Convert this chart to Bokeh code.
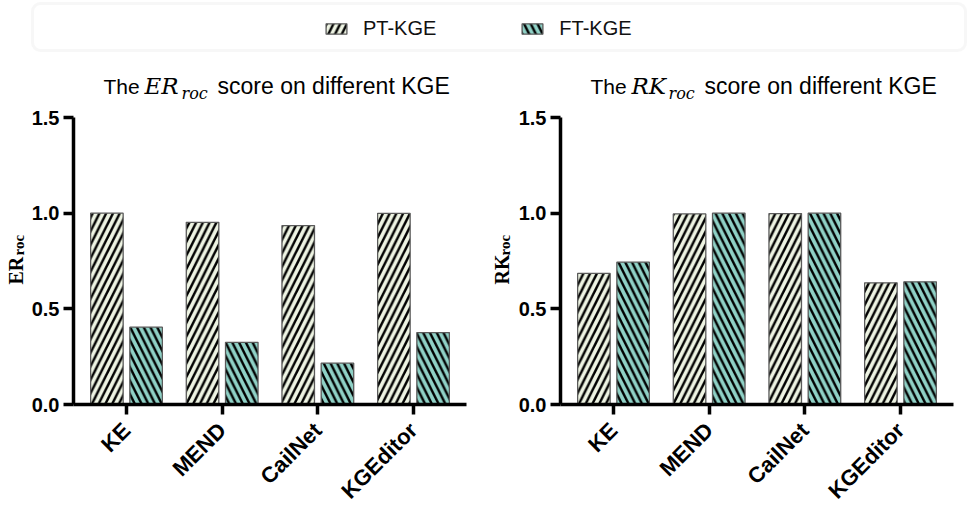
import math
from bokeh.plotting import figure
from bokeh.models import (ColumnDataSource, Range1d, FixedTicker, PrintfTickFormatter,
                          Label, Legend, LegendItem, BoxAnnotation)
from bokeh.layouts import column, row
from bokeh.transform import dodge
from bokeh.embed import file_html
from bokeh.resources import INLINE

# ---------------- data ----------------
categories = ["KE", "MEND", "CailNet", "KGEditor"]
series_names = ["PT-KGE", "FT-KGE"]
er_pt = [1.000, 0.952, 0.935, 0.999]
er_ft = [0.404, 0.325, 0.216, 0.376]
rk_pt = [0.685, 0.996, 0.998, 0.636]
rk_ft = [0.744, 1.000, 1.000, 0.641]
y_ticks = [0.0, 0.5, 1.0, 1.5]

# ---------------- style ----------------
PT_FILL = "#eef4e3"
FT_FILL = "#8fd1c6"
SANS = "Liberation Sans"
SERIF = "DejaVu Serif"
YSERIF = "Liberation Serif"
BAR_W = 0.34
OFF = 0.205
FRAME_W, FRAME_H = 393, 287
ROW_H = 404
TOP_B = 13

bar_style = dict(line_color="#5a5a5a", line_width=1.3, hatch_color="black",
                 hatch_weight=2.4, hatch_scale=13.5)


def strip(width, height):
    f = figure(output_backend="svg", toolbar_location=None, width=width, height=height,
               x_range=Range1d(0, 1), y_range=Range1d(0, 1),
               x_axis_type=None, y_axis_type=None,
               min_border=0, min_border_left=0, min_border_right=0,
               min_border_top=0, min_border_bottom=0)
    f.outline_line_color = None
    f.grid.visible = False
    return f


def make_chart(pt, ft, min_left, min_right):
    src = ColumnDataSource(dict(idx=list(range(len(categories))), pt=pt, ft=ft))
    p = figure(output_backend="svg", toolbar_location=None,
               frame_width=FRAME_W, frame_height=FRAME_H,
               x_range=Range1d(-0.554, len(categories) - 1 + 0.554),
               y_range=Range1d(0, 1.5),
               min_border_left=min_left, min_border_right=min_right,
               min_border_top=TOP_B, min_border_bottom=ROW_H - TOP_B - FRAME_H)
    p.vbar(x=dodge("idx", -OFF, range=p.x_range), top="pt", bottom=0, width=BAR_W,
           source=src, fill_color=PT_FILL, hatch_pattern="/", **bar_style)
    p.vbar(x=dodge("idx", OFF, range=p.x_range), top="ft", bottom=0, width=BAR_W,
           source=src, fill_color=FT_FILL, hatch_pattern="\\", **bar_style)

    p.outline_line_color = None
    p.grid.visible = False
    for ax in (p.xaxis[0], p.yaxis[0]):
        ax.axis_line_width = 3.5
        ax.axis_line_color = "black"
        ax.major_tick_line_width = 3.5
        ax.major_tick_line_color = "black"
        ax.major_tick_out = 10
        ax.major_tick_in = 0
        ax.minor_tick_line_color = None
        ax.major_label_text_font = SANS
        ax.major_label_text_font_style = "bold"
        ax.major_label_text_color = "black"
    p.yaxis.ticker = FixedTicker(ticks=y_ticks)
    p.yaxis.formatter = PrintfTickFormatter(format="%.1f")
    p.yaxis.major_label_text_font_size = "20px"
    p.yaxis.major_label_standoff = 4
    p.xaxis.ticker = FixedTicker(ticks=list(range(len(categories))))
    p.xaxis.major_label_overrides = {i: c for i, c in enumerate(categories)}
    p.xaxis.major_label_orientation = math.pi / 4
    p.xaxis.major_label_text_font_size = "22px"
    p.xaxis.major_label_standoff = 12
    return p


def ylabel_strip(width, sym, base_x):
    # the strip's frame is aligned with the neighbouring chart frame
    f = strip(width, ROW_H)
    kw = dict(x_units="screen", y_units="screen", angle=math.pi / 2, text_color="black",
              text_baseline="alphabetic", text_align="left", text_font=YSERIF,
              text_font_style="bold")
    f.add_layout(Label(x=base_x, y=113, text=sym, text_font_size="20px", **kw))
    f.add_layout(Label(x=base_x + 3, y=142, text="roc", text_font_size="15px", **kw))
    return f


# ---------------- legend strip ----------------
lg = strip(969, 56)
proxy = ColumnDataSource(dict(idx=list(range(len(categories))), pt=er_pt, ft=er_ft))
lg.x_range = Range1d(20, 21)
lg.y_range = Range1d(20, 21)
r_pt = lg.vbar(x="idx", top="pt", width=0.1, source=proxy, fill_color=PT_FILL,
               hatch_pattern="/", visible=False, **bar_style)
r_ft = lg.vbar(x="idx", top="ft", width=0.1, source=proxy, fill_color=FT_FILL,
               hatch_pattern="\\", visible=False, **bar_style)
lg.add_layout(BoxAnnotation(left=32, right=965, bottom=6, top=53,
                            left_units="screen", right_units="screen",
                            bottom_units="screen", top_units="screen",
                            fill_alpha=0, line_color="#e3e3e3", line_width=3,
                            border_radius=8))
legend = Legend(items=[LegendItem(label=series_names[0], renderers=[r_pt]),
                       LegendItem(label=series_names[1], renderers=[r_ft])],
                orientation="horizontal", location=(323, 16),
                glyph_width=26, glyph_height=13, label_height=13,
                label_standoff=14, spacing=83, padding=0, margin=0,
                border_line_color=None, background_fill_alpha=0,
                label_text_font=SANS, label_text_font_size="20px",
                label_text_color="#111111")
lg.add_layout(legend)

# ---------------- title strip ----------------
tt = strip(969, 48)
tkw = dict(x_units="screen", y_units="screen", text_color="black",
           text_baseline="alphabetic", text_align="left")
for x0, sym in ((103, "ER"), (590, "RK")):
    tt.add_layout(Label(x=x0, y=18, text="The", text_font=SANS, text_font_size="21px", **tkw))
    tt.add_layout(Label(x=x0 + 41, y=19, text=sym, text_font=SERIF,
                        text_font_style="italic", text_font_size="23px", **tkw))
    tt.add_layout(Label(x=x0 + 78, y=11, text="roc", text_font=SERIF,
                        text_font_style="italic", text_font_size="16px", **tkw))
    tt.add_layout(Label(x=x0 + 114, y=19, text="score on different KGE",
                        text_font=SANS, text_font_size="23px", **tkw))

# ---------------- charts ----------------
yl1 = ylabel_strip(28, "ER", 15)
p1 = make_chart(er_pt, er_ft, 45, 19)
yl2 = ylabel_strip(30, "RK", 16)
p2 = make_chart(rk_pt, rk_ft, 44, 17)

layout = column(lg, tt, row(yl1, p1, yl2, p2))
open("out.html", "w").write(file_html(layout, INLINE))
